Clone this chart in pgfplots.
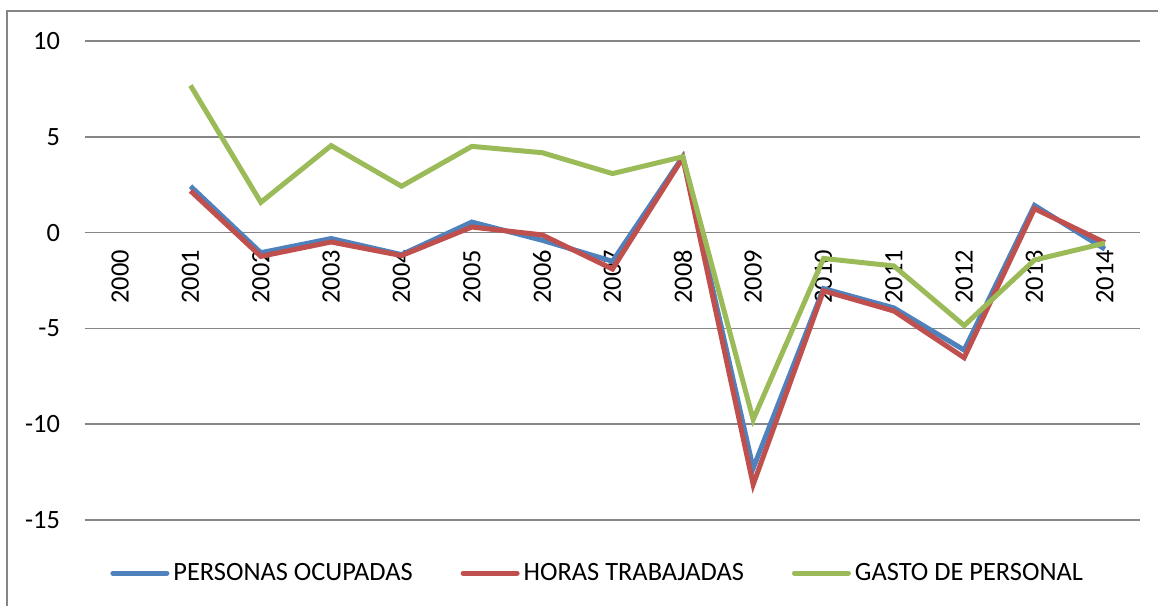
\documentclass[border=0pt]{standalone}
\usepackage{fontspec}
\setmainfont{Carlito}
\usepackage{pgfplots}
\pgfplotsset{compat=1.18}
\definecolor{cblue}{HTML}{4F81BD}
\definecolor{cred}{HTML}{C0504D}
\definecolor{cgreen}{HTML}{9BBB59}
\definecolor{cgrid}{HTML}{868686}
\begin{document}
\begin{tikzpicture}
\path[use as bounding box] (0,0) rectangle (579pt,303pt);
\draw[cgrid, line width=0.75pt] (3.5pt,0) -- (3.5pt,297.5pt) -- (579pt,297.5pt);
\begin{axis}[
  at={(42.5pt,43pt)}, anchor=south west,
  scale only axis, width=527.5pt, height=239.5pt,
  xmin=-0.5, xmax=14.5, ymin=-15, ymax=10,
  axis x line=middle, axis y line=left,
  x axis line style={draw=none}, y axis line style={draw=none},
  xtick={0,...,14},
  xticklabels={2000,2001,2002,2003,2004,2005,2006,2007,2008,2009,2010,2011,2012,2013,2014},
  ytick={-15,-10,-5,0,5,10},
  yticklabels={-15,-10,-5,0,5,10},
  major tick length=0pt,
  ymajorgrids, grid style={cgrid, line width=0.75pt},
  tick label style={font=\fontsize{13.2}{15}\selectfont, text=black},
  xticklabel style={yshift=-6.5pt, rotate=90, anchor=east, inner sep=2pt},
  yticklabel style={anchor=east, xshift=-9pt},
  legend columns=3,
  legend style={draw=none, fill=none, at={(0.0237,-0.111)}, anchor=west, inner sep=0pt,
    font=\fontsize{13.2}{15}\selectfont,
    /tikz/every even column/.append style={column sep=22pt},
    /tikz/every odd column/.append style={column sep=0pt}},
  legend cell align=left,
  legend image code/.code={\draw[#1, line cap=round] (0pt,0pt) -- (27pt,0pt);},
  every axis plot/.append style={line width=2.5pt, line join=miter},
]
\addplot[cblue, mark=none] coordinates {
 (1,2.42) (2,-1.05) (3,-0.31) (4,-1.15) (5,0.55) (6,-0.40) (7,-1.50) (8,3.96)
 (9,-12.3) (10,-2.92) (11,-3.93) (12,-6.13) (13,1.42) (14,-0.86)};
\addlegendentry{PERSONAS OCUPADAS}
\addplot[cred, mark=none] coordinates {
 (1,2.18) (2,-1.24) (3,-0.49) (4,-1.20) (5,0.29) (6,-0.12) (7,-1.90) (8,3.90)
 (9,-13.15) (10,-3.04) (11,-4.09) (12,-6.53) (13,1.25) (14,-0.52)};
\addlegendentry{HORAS TRABAJADAS}
\addplot[cgreen, mark=none] coordinates {
 (1,7.68) (2,1.58) (3,4.54) (4,2.42) (5,4.50) (6,4.17) (7,3.08) (8,3.96)
 (9,-9.76) (10,-1.35) (11,-1.74) (12,-4.85) (13,-1.43) (14,-0.55)};
\addlegendentry{GASTO DE PERSONAL}
\end{axis}
\end{tikzpicture}
\end{document}
